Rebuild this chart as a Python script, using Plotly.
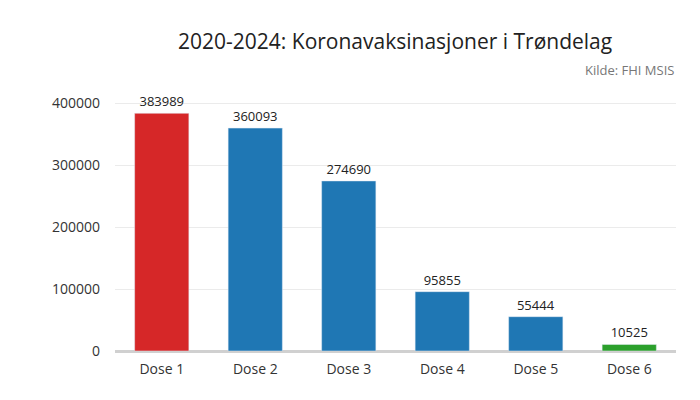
import plotly.graph_objects as go

categories = ["Dose 1", "Dose 2", "Dose 3", "Dose 4", "Dose 5", "Dose 6"]
values = [383989, 360093, 274690, 95855, 55444, 10525]
colors = ["#d62728", "#1f77b4", "#1f77b4", "#1f77b4", "#1f77b4", "#2ca02c"]

fig = go.Figure(go.Bar(
    x=categories, y=values, marker_color=colors, width=0.58,
    text=[str(v) for v in values], textposition="outside", cliponaxis=False,
    textfont=dict(size=13, color="#222"),
))
fig.update_layout(
    width=700, height=400, plot_bgcolor="white", paper_bgcolor="white",
    font=dict(family="Open Sans, Noto Sans, Arial", size=14, color="#333"),
    title=dict(text="2020-2024: Koronavaksinasjoner i Trøndelag", x=0.553, xanchor="center",
               y=0.917, yanchor="middle", font=dict(size=21, color="#222")),
    margin=dict(l=107, r=32, t=83, b=57, autoexpand=False),
    showlegend=False,
    xaxis=dict(showgrid=False, ticks="", automargin=False, ticklabelstandoff=8,
               tickfont=dict(size=14, color="#333")),
    yaxis=dict(range=[0, 420000], tickvals=[0, 100000, 200000, 300000, 400000], tickformat="d",
               automargin=False,
               gridcolor="#ebebeb", zeroline=True, zerolinecolor="#d0d0d0", zerolinewidth=3,
               tickfont=dict(size=14, color="#333"), ticklabelstandoff=14),
    annotations=[dict(text="Kilde: FHI MSIS", xref="paper", yref="paper", x=1.0, y=1.04,
                      xanchor="right", yanchor="bottom", showarrow=False,
                      font=dict(size=13, color="#777"))],
)
fig.write_html("out.html")
